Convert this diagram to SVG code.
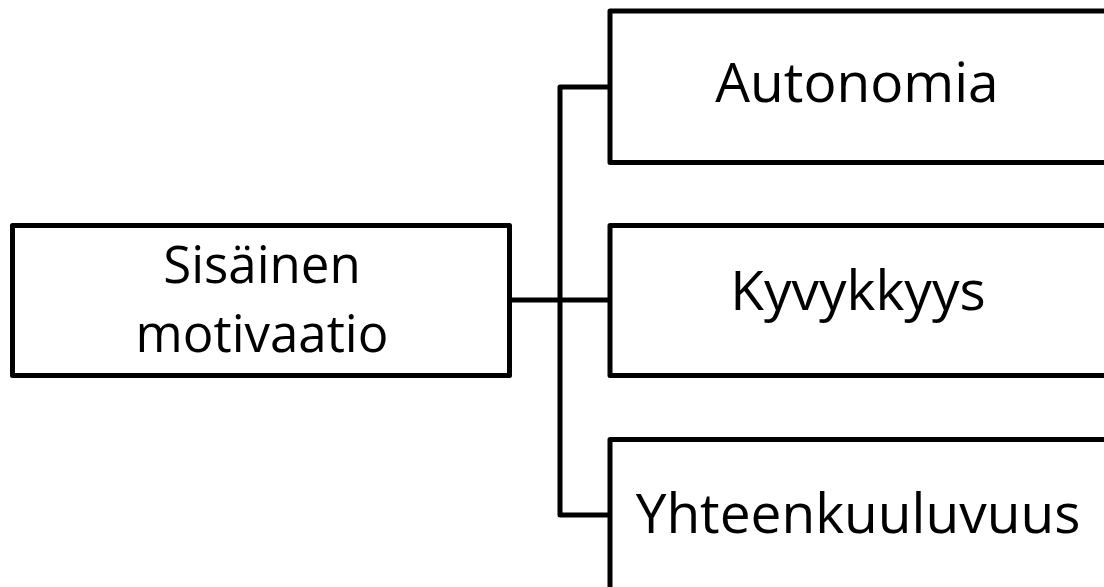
<svg xmlns="http://www.w3.org/2000/svg" width="1104" height="587" viewBox="0 0 1104 587">
  <style>
    .box { fill: #ffffff; stroke: #000000; stroke-width: 5; stroke-linejoin: round; }
    .link { fill: none; stroke: #000000; stroke-width: 5; stroke-linejoin: round; }
    .label { font-family: "Open Sans", "Noto Sans", sans-serif; font-size: 55px; fill: #000000; text-anchor: middle; }
    .root-label { font-size: 51px; }
  </style>
  <rect width="1104" height="587" fill="#ffffff"/>

  <!-- tree connectors from the root to the three children -->
  <g id="connectors">
    <path class="link" d="M509.5,300 H610"/>
    <path class="link" d="M610,87 H560 V515 H610"/>
  </g>

  <g id="node-root">
    <rect class="box" x="12.5" y="225.5" width="497" height="150"/>
    <text class="label root-label" x="262" y="283">Sisäinen</text>
    <text class="label root-label" x="262" y="352">motivaatio</text>
  </g>

  <g id="node-autonomia">
    <rect class="box" x="610" y="11" width="498" height="151.5"/>
    <text class="label" x="857" y="102">Autonomia</text>
  </g>

  <g id="node-kyvykkyys">
    <rect class="box" x="610" y="225.5" width="498" height="150"/>
    <text class="label" x="858" y="310">Kyvykkyys</text>
  </g>

  <g id="node-yhteenkuuluvuus">
    <rect class="box" x="610" y="439.5" width="498" height="151"/>
    <text class="label" x="858" y="533">Yhteenkuuluvuus</text>
  </g>
</svg>
